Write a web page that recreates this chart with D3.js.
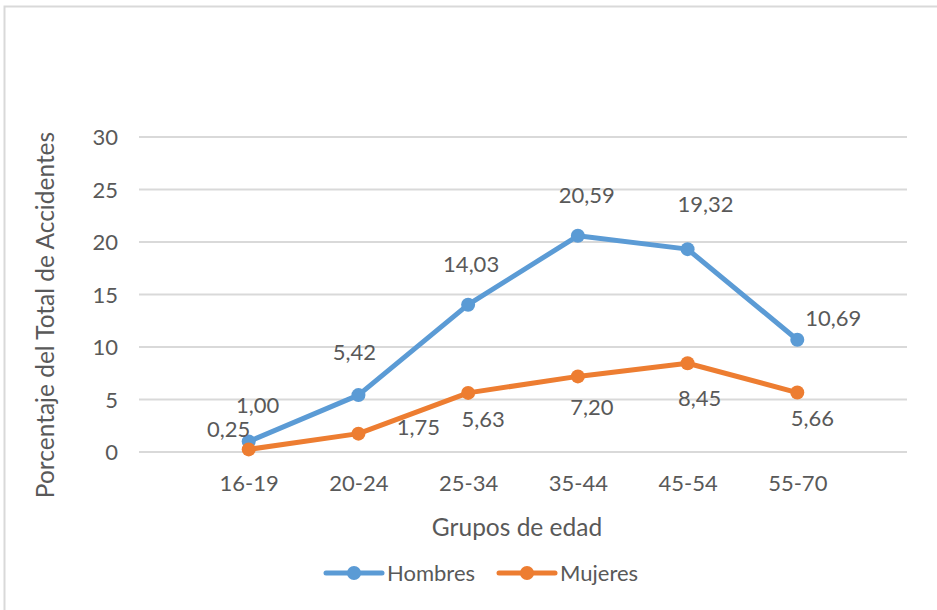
<!DOCTYPE html>
<html>
<head>
<meta charset="utf-8">
<script src="https://cdn.jsdelivr.net/npm/d3@7"></script>
<style>
  html, body { margin: 0; padding: 0; background: #fff; }
  svg { display: block; }
  text { font-family: Lato, "Open Sans", sans-serif; fill: #595959; }
</style>
</head>
<body>
<svg id="chart" width="937" height="610"></svg>
<script>
// ---- data ----
const categories = ["16-19", "20-24", "25-34", "35-44", "45-54", "55-70"];
const hombres = [1.00, 5.42, 14.03, 20.59, 19.32, 10.69];
const mujeres = [0.25, 1.75, 5.63, 7.20, 8.45, 5.66];
const yTicks = [0, 5, 10, 15, 20, 25, 30];
const seriesNames = ["Hombres", "Mujeres"];
const xTitle = "Grupos de edad";
const yTitle = "Porcentaje del Total de Accidentes";

// ---- layout / style ----
const colors = ["#5B9BD5", "#ED7D31"];
// label offsets (px) relative to each point: [dx, dy, anchor]
const labelOffsets = [
  [[9,-36,"middle"],[-4,-43,"middle"],[3,-40,"middle"],[9,-41,"middle"],[18,-45,"middle"],[8,-21,"start"]],
  [[-20,-20,"middle"],[60,-6,"middle"],[15,26,"middle"],[14,31,"middle"],[12,35,"middle"],[15,26,"middle"]]
];
const plot = { left: 139, right: 907, top: 137, bottom: 452 };
const fsTick = 22, fsTitle = 24.5, fsLabel = 22;

const svg = d3.select("#chart");

// border
svg.append("rect").attr("x", 4.5).attr("y", 6.5).attr("width", 960).attr("height", 640)
  .attr("fill", "none").attr("stroke", "#d9d9d9").attr("stroke-width", 2);

const x = d3.scalePoint().domain(categories).range([plot.left, plot.right]).padding(1);
const y = d3.scaleLinear().domain([0, 30]).range([plot.bottom, plot.top]);

// gridlines
svg.append("g").selectAll("line").data(yTicks).join("line")
  .attr("x1", plot.left).attr("x2", plot.right)
  .attr("y1", d => y(d)).attr("y2", d => y(d))
  .attr("stroke", "#d9d9d9").attr("stroke-width", 1.8);

// y axis
const yAxis = svg.append("g").attr("transform", `translate(${plot.left - 21},0)`)
  .call(d3.axisLeft(y).tickValues(yTicks).tickSize(0).tickPadding(0).tickFormat(d3.format("d")));
yAxis.select(".domain").remove();
yAxis.selectAll("text").style("font-family", "Lato, sans-serif").attr("font-size", fsTick).attr("fill", "#595959").attr("dy", "0.35em");

// x axis
const xAxis = svg.append("g").attr("transform", `translate(0,${plot.bottom + 31})`)
  .call(d3.axisBottom(x).tickSize(0).tickPadding(0));
xAxis.select(".domain").remove();
xAxis.selectAll("text").style("font-family", "Lato, sans-serif").attr("font-size", fsTick).attr("fill", "#595959").attr("dy", "0.35em");

// axis titles
svg.append("text").attr("x", 517).attr("y", 527).attr("dy", "0.35em")
  .attr("text-anchor", "middle").attr("font-size", fsTitle).text(xTitle);
svg.append("text").attr("transform", "translate(45,315) rotate(-90)").attr("dy", "0.35em")
  .attr("text-anchor", "middle").attr("font-size", fsTitle).text(yTitle);

// series
const series = [hombres, mujeres];
const line = d3.line().x((d, i) => x(categories[i])).y(d => y(d));
const fmt = v => d3.format(".2f")(v).replace(".", ",");

series.forEach((vals, s) => {
  const g = svg.append("g");
  g.append("path").datum(vals).attr("d", line).attr("fill", "none")
    .attr("stroke", colors[s]).attr("stroke-width", 5).attr("stroke-linejoin", "round");
  g.selectAll("circle").data(vals).join("circle")
    .attr("cx", (d, i) => x(categories[i])).attr("cy", d => y(d)).attr("r", 7)
    .attr("fill", colors[s]);
});
// labels drawn after lines
series.forEach((vals, s) => {
  svg.append("g").selectAll("text").data(vals).join("text")
    .attr("x", (d, i) => x(categories[i]) + labelOffsets[s][i][0])
    .attr("y", (d, i) => y(d) + labelOffsets[s][i][1])
    .attr("dy", "0.35em")
    .attr("text-anchor", (d, i) => labelOffsets[s][i][2])
    .attr("font-size", fsLabel).text(d => fmt(d));
});

// legend
const legendItems = [{x: 326, tx: 387}, {x: 499, tx: 560}];
seriesNames.forEach((name, s) => {
  const lg = svg.append("g");
  const lx = legendItems[s].x, ly = 573;
  lg.append("line").attr("x1", lx).attr("x2", lx + 56).attr("y1", ly).attr("y2", ly)
    .attr("stroke", colors[s]).attr("stroke-width", 5).attr("stroke-linecap", "round");
  lg.append("circle").attr("cx", lx + 28).attr("cy", ly).attr("r", 7).attr("fill", colors[s]);
  lg.append("text").attr("x", legendItems[s].tx).attr("y", ly).attr("dy", "0.35em")
    .attr("font-size", fsTick).text(name);
});
</script>
</body>
</html>
